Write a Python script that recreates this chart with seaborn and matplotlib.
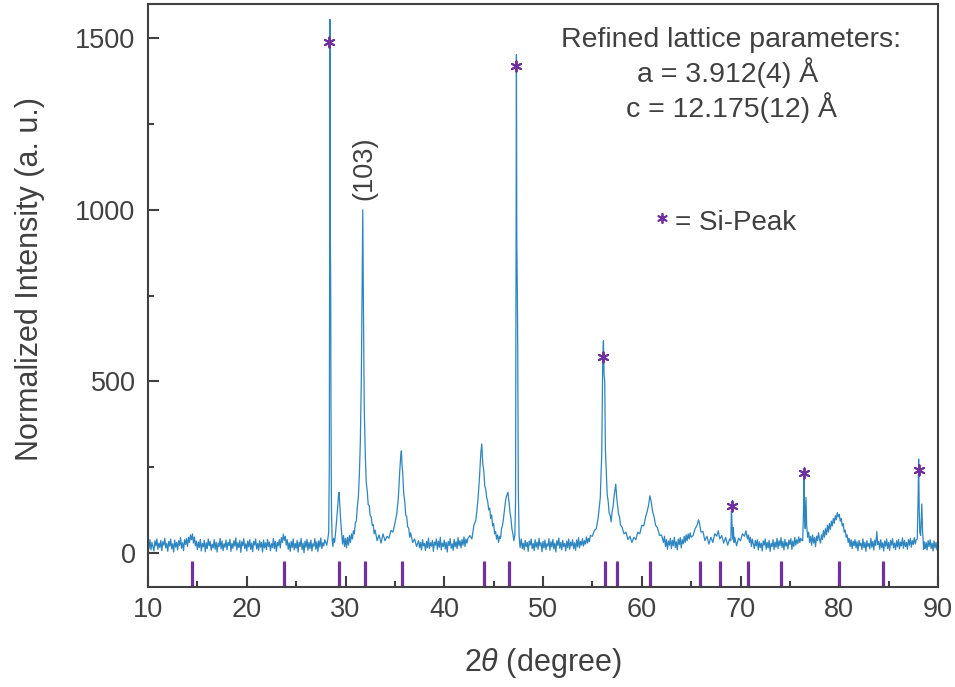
import numpy as np
import pandas as pd
import matplotlib
matplotlib.use("Agg")
import matplotlib.pyplot as plt
from matplotlib.ticker import AutoMinorLocator
import seaborn as sns

# ---------------- data ----------------
scan_step = 0.1

# baseline 10.0 - 28.0 (uniform scan step), small bumps at 14.5 and 23.8
seg_a_start = 10.0
seg_a_int = [25, 12, 38, 8, 30, 18, 5, 35, 20, 40,
             10, 28, 15, 36, 6, 32, 22, 42, 14, 27,
             4, 33, 19, 40, 11, 26, 2, 37, 16, 30,
             8, 35, 21, 44, 13, 29, 6, 38, 24, 41,
             18, 45, 30, 52, 38, 55, 28, 46, 20, 34,
             9, 31, 15, 39, 5, 27, 17, 36, 3, 29,
             12, 40, 20, 33, 7, 25, 14, 38, 10, 31,
             2, 28, 18, 42, 11, 34, 6, 26, 16, 37,
             9, 30, 21, 39, 4, 27, 13, 35, 19, 43,
             8, 29, 15, 36, 1, 32, 20, 41, 12, 26,
             5, 34, 17, 38, 10, 28, 3, 33, 22, 40,
             11, 27, 7, 35, 16, 30, 2, 37, 14, 29,
             9, 39, 18, 31, 6, 26, 15, 42, 12, 33,
             4, 30, 20, 38, 14, 44, 30, 54, 36, 48,
             22, 38, 10, 29, 4, 33, 15, 40, 8, 27,
             13, 36, 2, 31, 18, 42, 9, 28, 0, 34,
             16, 39, 7, 30, 12, 37, 5, 26, 19, 41,
             10, 32, 3, 35, 17, 43, 12, 29, 20, 38,
             30]

# peaks 28.1 - 37.2 (Si 28.4, 29.3, (103), 35.7)
seg_b_tt = [28.1, 28.2, 28.3, 28.36, 28.4, 28.43, 28.46, 28.5, 28.53, 28.58,
            28.65, 28.72, 28.8, 28.9, 29.0, 29.1, 29.2, 29.28, 29.35, 29.42,
            29.5, 29.6, 29.7, 29.8, 29.9, 30.0, 30.1, 30.2, 30.3, 30.4,
            30.5, 30.6, 30.7, 30.8, 30.9, 31.0, 31.1, 31.2, 31.3, 31.4,
            31.5, 31.6, 31.68, 31.75, 31.82, 31.9, 32.0, 32.1, 32.2, 32.3,
            32.4, 32.5, 32.6, 32.7, 32.8, 32.9, 33.0, 33.2, 33.4, 33.6,
            33.8, 34.0, 34.2, 34.4, 34.6, 34.8, 35.0, 35.2, 35.35, 35.5,
            35.6, 35.66, 35.72, 35.8, 35.9, 36.0, 36.1, 36.2, 36.3, 36.4,
            36.5, 36.6, 36.8, 37.0, 37.2]
seg_b_int = [22, 38, 60, 250, 1100, 1555, 950, 780, 420, 120,
             40, 18, 42, 30, 60, 95, 130, 165, 176, 140,
             100, 60, 25, 50, 18, 42, 14, 45, 22, 50,
             30, 55, 40, 64, 55, 88, 92, 135, 160, 225,
             320, 500, 780, 1000, 700, 420, 290, 205, 180, 140,
             138, 108, 105, 80, 82, 55, 66, 35, 52, 28,
             55, 35, 48, 42, 65, 60, 85, 115, 160, 240,
             285, 297, 260, 230, 170, 150, 110, 105, 75, 72,
             45, 58, 30, 40, 18]

# baseline 37.4 - 42.4
seg_c_start = 37.4
seg_c_int = [35, 14, 30, 8, 38, 20, 27, 6, 33, 15,
             42, 12, 29, 19, 36, 4, 31, 22, 40, 10,
             34, 16, 45, 8, 28, 18, 37, 11, 30, 2,
             33, 21, 41, 13, 26, 7, 39, 17, 32, 12,
             44, 20, 35, 14, 38, 22, 46, 18, 40, 28,
             42]

# peaks 42.6 - 47.8 (43.8, 46.45, Si 47.3)
seg_d_tt = [42.6, 42.8, 43.0, 43.2, 43.4, 43.55, 43.7, 43.8, 43.9, 44.0,
            44.1, 44.2, 44.3, 44.4, 44.5, 44.6, 44.7, 44.8, 44.9, 45.0,
            45.1, 45.2, 45.3, 45.4, 45.5, 45.6, 45.7, 45.8, 45.9, 46.0,
            46.1, 46.2, 46.3, 46.45, 46.55, 46.65, 46.75, 46.85, 46.95, 47.05,
            47.15, 47.22, 47.27, 47.31, 47.35, 47.4, 47.44, 47.5, 47.58, 47.68,
            47.8, 47.9]
seg_d_int = [50, 40, 80, 95, 150, 210, 290, 317, 260, 240,
             195, 185, 160, 150, 125, 130, 100, 110, 78, 85,
             55, 62, 40, 52, 30, 48, 42, 70, 80, 100,
             125, 150, 165, 176, 150, 120, 100, 70, 55, 35,
             52, 150, 900, 1452, 900, 764, 600, 180, 50, 15,
             40, 12]

# baseline 48.0 - 54.8
seg_e_start = 48.0
seg_e_int = [28, 8, 36, 18, 30, 4, 34, 22, 40, 12,
             27, 6, 38, 16, 31, 10, 42, 20, 29, 3,
             33, 14, 37, 9, 26, 19, 41, 7, 32, 17,
             39, 11, 28, 2, 35, 21, 43, 13, 30, 8,
             36, 18, 27, 5, 34, 15, 40, 10, 31, 20,
             38, 12, 29, 7, 37, 17, 44, 14, 33, 22,
             41, 19, 35, 25, 46, 28, 42, 32, 50]

# peaks 55.0 - 62.0 (Si 56.1, 57.4, 60.8)
seg_f_tt = [55.0, 55.2, 55.4, 55.6, 55.8, 55.95, 56.05, 56.12, 56.18, 56.25,
            56.32, 56.4, 56.5, 56.6, 56.7, 56.8, 56.9, 57.0, 57.1, 57.2,
            57.3, 57.37, 57.45, 57.55, 57.65, 57.75, 57.85, 58.0, 58.2, 58.4,
            58.6, 58.8, 59.0, 59.2, 59.4, 59.6, 59.8, 60.0, 60.2, 60.4,
            60.55, 60.7, 60.82, 60.95, 61.1, 61.25, 61.4, 61.6, 61.8, 62.0]
seg_f_int = [48, 65, 70, 105, 160, 290, 560, 618, 520, 500,
             300, 240, 170, 150, 115, 110, 90, 120, 135, 165,
             185, 200, 165, 140, 113, 105, 80, 75, 55, 60,
             38, 48, 30, 45, 38, 60, 55, 80, 78, 105,
             120, 140, 166, 150, 120, 105, 80, 72, 50, 52]

# baseline 62.2 - 65.0
seg_g_start = 62.2
seg_g_int = [30, 48, 18, 38, 10, 34, 22, 42, 12, 36,
             20, 45, 15, 32, 8, 40, 24, 44, 14, 38,
             26, 48, 30, 52, 35, 55, 40, 58, 45]

# 65.2 - 70.7 (65.8, 67.75, Si 69.1, 70.55)
seg_h_tt = [65.2, 65.4, 65.6, 65.75, 65.85, 66.0, 66.2, 66.4, 66.6, 66.8,
            67.0, 67.2, 67.4, 67.6, 67.75, 67.9, 68.1, 68.3, 68.5, 68.7,
            68.9, 69.02, 69.08, 69.13, 69.2, 69.28, 69.34, 69.42, 69.6, 69.8,
            70.0, 70.2, 70.4, 70.55, 70.7]
seg_h_int = [50, 70, 80, 96, 85, 60, 62, 35, 48, 25,
             45, 30, 55, 48, 64, 40, 50, 28, 45, 22,
             40, 35, 132, 90, 40, 74, 30, 45, 20, 42,
             35, 55, 48, 64, 40]

# baseline 70.8 - 76.2
seg_m_start = 70.8
seg_m_int = [52, 30, 45, 18, 40, 25, 12, 36, 20, 38,
             8, 32, 15, 28, 5, 34, 22, 40, 10, 30,
             14, 36, 4, 27, 18, 38, 9, 31, 16, 42,
             12, 35, 20, 44, 15, 33, 8, 39, 19, 30,
             11, 37, 24, 41, 10, 34, 18, 45, 22, 38,
             27, 46, 30, 42, 36]

# Si 76.4
seg_i_tt = [76.3, 76.38, 76.43, 76.5, 76.56, 76.63, 76.7, 76.8, 76.9, 77.0,
            77.1, 77.2, 77.3, 77.4, 77.5, 77.6, 77.7, 77.8, 77.9, 78.0]
seg_i_int = [35, 120, 240, 100, 70, 161, 80, 45, 60, 30,
             48, 22, 52, 28, 44, 18, 48, 35, 58, 40]

# broad 79.9
seg_j_tt = [78.1, 78.2, 78.3, 78.4, 78.5, 78.6, 78.7, 78.8, 78.9, 79.0,
            79.1, 79.2, 79.3, 79.4, 79.5, 79.6, 79.7, 79.8, 79.9, 80.0,
            80.1, 80.2, 80.3, 80.4, 80.5, 80.6, 80.7, 80.8, 80.9, 81.0,
            81.1, 81.2, 81.3, 81.4, 81.5]
seg_j_int = [28, 52, 38, 65, 45, 70, 52, 80, 60, 85,
             68, 92, 78, 100, 86, 108, 96, 117, 105, 112,
             92, 100, 78, 85, 60, 66, 45, 52, 30, 42,
             18, 38, 12, 34, 20]

# baseline 81.6 - 87.8
seg_k_start = 81.6
seg_k_int = [38, 14, 32, 6, 36, 20, 28, 9, 40, 15,
             30, 4, 35, 18, 27, 11, 42, 16, 33, 8,
             37, 21, 62, 24, 33, 10, 38, 15, 29, 5,
             34, 19, 40, 12, 30, 7, 36, 22, 41, 14,
             28, 9, 35, 17, 39, 11, 31, 20, 43, 13,
             36, 18, 30, 10, 38, 22, 42, 16, 35, 24,
             44, 26, 38]

# Si 88.0 and end
seg_l_tt = [87.9, 87.98, 88.04, 88.1, 88.16, 88.24, 88.3, 88.36, 88.44, 88.55,
            88.6, 88.7, 88.8, 88.9, 89.0, 89.1, 89.2, 89.3, 89.4, 89.5,
            89.6, 89.7, 89.8, 89.9, 90.0]
seg_l_int = [40, 150, 273, 120, 60, 50, 100, 142, 60, 10,
             32, 12, 30, 8, 35, 18, 38, 12, 28, 5,
             34, 14, 30, 8, 20]

# calculated reflection positions (purple bars)
reflections = [14.49, 23.77, 29.34, 31.97, 35.69, 43.99, 46.52, 56.28,
               57.49, 60.84, 65.93, 67.92, 70.79, 74.13, 79.94, 84.40]

# Si peak markers
si_tt = [28.36, 47.27, 56.10, 69.10, 76.43, 88.05]
si_int = [1489, 1420, 572, 135, 231, 241]

x_ticks = [10, 20, 30, 40, 50, 60, 70, 80, 90]
y_ticks = [0, 500, 1000, 1500]


def grid(start, vals):
    return list(np.round(start + scan_step * np.arange(len(vals)), 2))


two_theta = (grid(seg_a_start, seg_a_int) + seg_b_tt + grid(seg_c_start, seg_c_int)
             + seg_d_tt + grid(seg_e_start, seg_e_int) + seg_f_tt
             + grid(seg_g_start, seg_g_int) + seg_h_tt + grid(seg_m_start, seg_m_int)
             + seg_i_tt + seg_j_tt + grid(seg_k_start, seg_k_int) + seg_l_tt)
intensity = (seg_a_int + seg_b_int + seg_c_int + seg_d_int + seg_e_int + seg_f_int
             + seg_g_int + seg_h_int + seg_m_int + seg_i_int + seg_j_int
             + seg_k_int + seg_l_int)
df = pd.DataFrame({"two_theta": two_theta, "intensity": intensity})
si_df = pd.DataFrame({"two_theta": si_tt, "intensity": si_int})

# ---------------- style ----------------
LINE = "#2E86C1"
PURPLE = "#7030A0"
DARK = "#404040"

sns.set_theme(style="white")
plt.rcParams["font.family"] = ["Liberation Sans", "DejaVu Sans"]
plt.rcParams["mathtext.fontset"] = "custom"
plt.rcParams["mathtext.rm"] = "Liberation Sans"
plt.rcParams["mathtext.it"] = "Liberation Sans:italic"

W, H = 955, 687
fig = plt.figure(figsize=(W / 100, H / 100), dpi=100)
ax = fig.add_axes([148 / W, 1 - 587 / H, 790 / W, 583 / H])


def fp(x, y):
    return x / W, 1 - y / H


sns.lineplot(data=df, x="two_theta", y="intensity", estimator=None, sort=False,
             color=LINE, lw=0.9, ax=ax)
ax.vlines(reflections, -100, -23, colors=PURPLE, lw=2.3)
sns.scatterplot(data=si_df, x="two_theta", y="intensity", marker=(6, 2, 0), s=55,
                color=PURPLE, edgecolor=PURPLE, linewidth=1.4, ax=ax, zorder=5)

ax.set_xlim(10, 90)
ax.set_ylim(-100, 1600)
ax.set_xticks(x_ticks)
ax.set_yticks(y_ticks)
ax.xaxis.set_minor_locator(AutoMinorLocator(2))
ax.yaxis.set_minor_locator(AutoMinorLocator(2))
ax.tick_params(which="both", direction="in", color=DARK, width=1.5,
               labelcolor=DARK, labelsize=19.5, top=False, right=False,
               left=True, bottom=True)
ax.tick_params(which="major", length=8)
ax.tick_params(which="minor", length=4)
ax.tick_params(axis="x", which="major", pad=7)
ax.tick_params(axis="y", which="major", pad=9)
ax.set_xlabel("")
ax.set_ylabel("")
for sp in ax.spines.values():
    sp.set_color(DARK)
    sp.set_linewidth(1.5)
    sp.set_visible(True)

# labels
fig.text(*fp(543, 663), r"2$\it{\theta}$ (degree)", ha="center", va="center",
         fontsize=22, color=DARK)
fig.text(*fp(30, 279), "Normalized Intensity (a. u.)", rotation=90,
         ha="center", va="center", fontsize=22, color=DARK)

# annotations
fig.text(*fp(731, 47), "Refined lattice parameters:", ha="center", va="baseline",
         fontsize=20.5, color=DARK)
fig.text(*fp(728, 82), "a = 3.912(4) Å", ha="center", va="baseline",
         fontsize=20.5, color=DARK)
fig.text(*fp(732, 117), "c = 12.175(12) Å", ha="center", va="baseline",
         fontsize=20.5, color=DARK)
fig.text(*fp(675, 230), "= Si-Peak", ha="left", va="baseline",
         fontsize=20, color=DARK)
ax.scatter([(662 - 148) / 790], [(587 - 218) / 583], transform=ax.transAxes,
           marker=(6, 2, 0), s=45, color=PURPLE, linewidth=1.3, zorder=5)
ax.text(31.87, 1120, "(103)", rotation=90, ha="center", va="center",
        fontsize=19.5, color=DARK)

fig.savefig("out.png", dpi=100)
